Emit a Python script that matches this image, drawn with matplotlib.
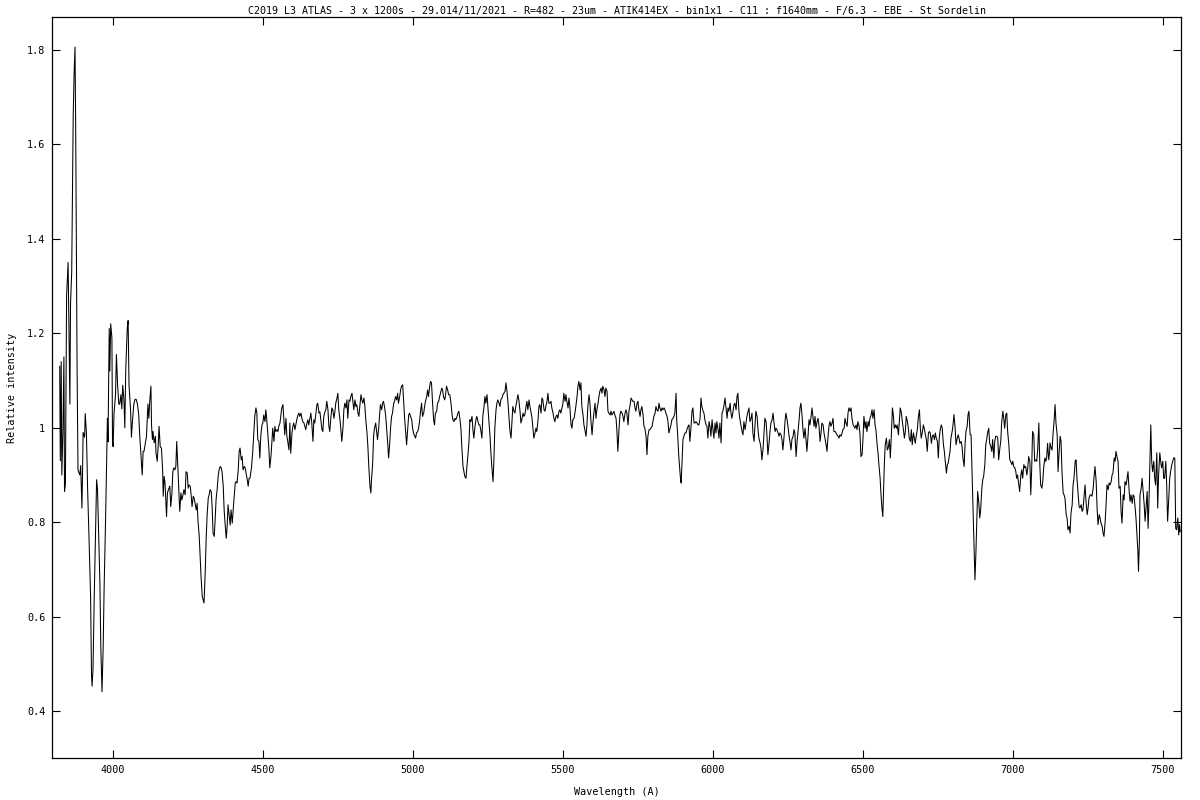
import matplotlib
matplotlib.use("Agg")
import matplotlib.pyplot as plt
from matplotlib.ticker import FormatStrFormatter, MultipleLocator

# Spectrum (wavelength in A, relative intensity)
wavelength = [
    3824, 3826, 3829, 3831, 3835, 3838, 3840, 3843, 3847, 3852, 3855, 3858, 3860, 3864, 3867, 3869,
    3872, 3875, 3877, 3880, 3882, 3885, 3891, 3894, 3898, 3900, 3902, 3907, 3909, 3913, 3917, 3922,
    3927, 3930, 3932, 3935, 3939, 3943, 3947, 3950, 3952, 3958, 3961, 3965, 3969, 3972, 3977, 3980,
    3983, 3985, 3989, 3991, 3994, 3998, 4000, 4002, 4005, 4010, 4013, 4017, 4021, 4024, 4028, 4031,
    4034, 4038, 4041, 4044, 4049, 4052, 4055, 4060, 4063, 4066, 4071, 4075, 4079, 4083, 4087, 4091,
    4095, 4099, 4102, 4105, 4110, 4113, 4118, 4121,
    4124, 4128, 4130, 4133, 4135, 4139, 4143, 4145, 4149, 4152, 4155, 4159, 4163, 4167, 4169, 4172,
    4175, 4180, 4183, 4188, 4191, 4194, 4198, 4201, 4204, 4208, 4211, 4214, 4218, 4221, 4224, 4228,
    4231, 4234, 4238, 4242, 4245, 4249, 4252, 4255, 4259, 4262, 4265, 4269, 4272, 4275, 4279, 4282,
    4285, 4289, 4292, 4295, 4299, 4302, 4305, 4309, 4312, 4315, 4319, 4322, 4325, 4329, 4332, 4335,
    4339, 4342, 4345, 4349, 4352, 4355, 4359, 4362, 4365, 4369, 4372, 4375, 4379, 4382, 4385, 4389,
    4392, 4395, 4399, 4402, 4405, 4409, 4412, 4415, 4419, 4422, 4425, 4429, 4432, 4435, 4439, 4442,
    4445, 4449, 4452, 4455,
    4458, 4463, 4467, 4471, 4474, 4478, 4481, 4484, 4488, 4491, 4494, 4498, 4501, 4504, 4508, 4511,
    4514, 4518, 4521, 4524, 4528, 4531, 4534, 4538, 4541, 4544, 4548, 4551, 4554, 4558, 4561, 4564,
    4568, 4571, 4574, 4578, 4581, 4584, 4588, 4591, 4594, 4598, 4601, 4604, 4608, 4611, 4614, 4618,
    4621, 4624, 4628, 4631, 4634, 4638, 4641, 4644, 4648, 4651, 4654, 4658, 4661, 4664, 4668, 4671,
    4674, 4678, 4681, 4684, 4688, 4691, 4694, 4698, 4701, 4704, 4708, 4711, 4714, 4718, 4721, 4724,
    4728, 4731, 4734, 4738, 4741, 4744, 4748, 4751, 4754, 4758, 4761, 4764, 4768, 4771, 4774, 4778,
    4781, 4784, 4788,
    4791, 4794, 4798, 4801, 4804, 4808, 4811, 4814, 4818, 4821, 4824, 4828, 4831, 4834, 4838, 4841,
    4844, 4848, 4851, 4854, 4858, 4861, 4863, 4867, 4870, 4873, 4877, 4880, 4883, 4887, 4890, 4893,
    4897, 4900, 4903, 4907, 4910, 4913, 4917, 4920, 4923, 4927, 4930, 4933, 4937, 4940, 4943, 4947,
    4950, 4953, 4957, 4960, 4963, 4967, 4970, 4973, 4977, 4980, 4983, 4987, 4990, 4993, 4997, 5000,
    5003, 5007, 5010, 5013, 5017, 5020, 5023, 5027, 5030, 5033, 5037, 5040, 5043, 5047, 5050, 5053,
    5057, 5060, 5063, 5066, 5070, 5073, 5076, 5080, 5083, 5087, 5090, 5093, 5097, 5100, 5103, 5107,
    5110, 5113, 5117, 5120,
    5124, 5128, 5131, 5134, 5138, 5141, 5144, 5148, 5151, 5154, 5158, 5161, 5164, 5168, 5171, 5174,
    5178, 5181, 5184, 5188, 5191, 5194, 5198, 5201, 5204, 5208, 5211, 5214, 5218, 5221, 5224, 5228,
    5231, 5234, 5238, 5241, 5244, 5248, 5251, 5254, 5258, 5261, 5264, 5268, 5271, 5274, 5278, 5281,
    5284, 5288, 5291, 5294, 5298, 5301, 5304, 5308, 5311, 5314, 5318, 5321, 5324, 5328, 5331, 5334,
    5338, 5341, 5344, 5348, 5351, 5354, 5358, 5361, 5364, 5368, 5371, 5374, 5378, 5381, 5384, 5388,
    5391, 5394, 5398, 5401, 5404, 5408, 5411, 5414, 5418, 5421, 5424, 5428, 5431, 5434, 5438, 5441,
    5444, 5448, 5451, 5454,
    5458, 5461, 5464, 5468, 5471, 5474, 5478, 5481, 5484, 5488, 5491, 5494, 5498, 5501, 5504, 5508,
    5511, 5514, 5518, 5521, 5524, 5528, 5531, 5534, 5538, 5541, 5544, 5548, 5551, 5554, 5558, 5561,
    5564, 5568, 5571, 5574, 5578, 5581, 5584, 5588, 5591, 5594, 5598, 5601, 5604, 5608, 5611, 5614,
    5618, 5621, 5624, 5628, 5631, 5634, 5638, 5641, 5644, 5648, 5651, 5654, 5658, 5661, 5664, 5668,
    5671, 5674, 5678, 5681, 5684, 5688, 5691, 5694, 5698, 5701, 5704, 5708, 5711, 5714, 5718, 5721,
    5724, 5728, 5731, 5734, 5738, 5741, 5744, 5748, 5751, 5754, 5758, 5761, 5764, 5768, 5771, 5774,
    5778, 5781, 5784, 5788,
    5791, 5794, 5798, 5801, 5804, 5808, 5811, 5814, 5818, 5821, 5824, 5828, 5831, 5834, 5838, 5841,
    5844, 5848, 5851, 5854, 5858, 5861, 5864, 5868, 5871, 5874, 5878, 5880, 5883, 5887, 5890, 5893,
    5895, 5898, 5901, 5904, 5908, 5911, 5914, 5918, 5921, 5924, 5928, 5931, 5934, 5938, 5941, 5944,
    5948, 5951, 5954, 5958, 5961, 5964, 5968, 5971, 5974, 5978, 5981, 5984, 5988, 5991, 5994, 5998,
    6001, 6004, 6008, 6011, 6014, 6018, 6021, 6024, 6028, 6031, 6034, 6038, 6041, 6044, 6048, 6051,
    6054, 6058, 6061, 6064, 6068, 6071, 6074, 6078, 6081, 6084, 6088, 6091, 6094, 6098, 6101, 6104,
    6108, 6111, 6114, 6118, 6121,
    6124, 6128, 6131, 6134, 6138, 6141, 6144, 6148, 6151, 6154, 6158, 6161, 6164, 6168, 6171, 6174,
    6178, 6181, 6184, 6188, 6191, 6194, 6198, 6201, 6204, 6208, 6211, 6214, 6218, 6221, 6224, 6228,
    6231, 6234, 6238, 6241, 6244, 6248, 6251, 6254, 6258, 6261, 6264, 6268, 6271, 6274, 6278, 6281,
    6284, 6288, 6291, 6294, 6298, 6301, 6304, 6308, 6311, 6314, 6318, 6321, 6324, 6328, 6331, 6334,
    6338, 6341, 6344, 6348, 6351, 6354, 6358, 6361, 6364, 6368, 6371, 6374, 6378, 6381, 6384, 6388,
    6391, 6394, 6398, 6401, 6404, 6408, 6411, 6414, 6418, 6421, 6424, 6428, 6431, 6434, 6438, 6441,
    6444, 6448, 6451, 6454,
    6458, 6461, 6464, 6468, 6471, 6474, 6478, 6481, 6484, 6488, 6491, 6494, 6498, 6501, 6504, 6508,
    6511, 6514, 6518, 6521, 6524, 6528, 6531, 6534, 6538, 6541, 6544, 6548, 6551, 6554, 6558, 6561,
    6564, 6567, 6569, 6572, 6575, 6579, 6582, 6585, 6589, 6592, 6595, 6599, 6602, 6605, 6609, 6612,
    6615, 6619, 6622, 6625, 6629, 6632, 6635, 6639, 6642, 6645, 6649, 6652, 6655, 6659, 6662, 6665,
    6669, 6672, 6675, 6679, 6682, 6685, 6689, 6692, 6695, 6699, 6702, 6705, 6709, 6712, 6715, 6719,
    6722, 6725, 6729, 6732, 6735, 6739, 6742, 6745, 6749, 6752, 6755, 6759, 6762, 6765, 6769, 6772,
    6775, 6779, 6782, 6785, 6789,
    6791, 6794, 6798, 6801, 6804, 6808, 6811, 6814, 6818, 6821, 6824, 6828, 6831, 6834, 6838, 6841,
    6844, 6848, 6851, 6854, 6858, 6861, 6864, 6868, 6871, 6874, 6877, 6880, 6883, 6887, 6890, 6893,
    6897, 6900, 6903, 6907, 6910, 6913, 6917, 6920, 6923, 6927, 6930, 6933, 6937, 6940, 6943, 6947,
    6950, 6953, 6957, 6960, 6963, 6967, 6970, 6973, 6977, 6980, 6983, 6987, 6990, 6993, 6997, 7000,
    7003, 7007, 7010, 7013, 7016, 7020, 7023, 7027, 7030, 7033, 7037, 7040, 7043, 7047, 7050, 7053,
    7057, 7060, 7063, 7066, 7070, 7073, 7077, 7080, 7083, 7087, 7090, 7093, 7097, 7100, 7103, 7107,
    7110, 7113, 7116, 7120, 7123,
    7124, 7128, 7131, 7134, 7138, 7141, 7144, 7148, 7151, 7154, 7158, 7161, 7164, 7168, 7171, 7174,
    7178, 7181, 7184, 7188, 7191, 7194, 7198, 7201, 7204, 7208, 7211, 7214, 7218, 7221, 7224, 7228,
    7231, 7234, 7238, 7241, 7244, 7248, 7251, 7254, 7258, 7261, 7264, 7268, 7271, 7274, 7278, 7281,
    7284, 7288, 7291, 7294, 7298, 7301, 7304, 7308, 7311, 7314, 7318, 7321, 7324, 7328, 7331, 7334,
    7338, 7341, 7344, 7348, 7351, 7354, 7358, 7361, 7364, 7368, 7371, 7374, 7378, 7381, 7384, 7388,
    7391, 7394, 7398, 7401, 7404, 7408, 7411, 7414, 7417, 7419, 7422, 7424, 7428, 7431, 7434, 7438,
    7441, 7444, 7448, 7451, 7454, 7458, 7460, 7463, 7466, 7470, 7473, 7476, 7480, 7483, 7486, 7490,
    7493, 7496, 7500, 7503, 7506, 7510, 7513, 7516, 7520, 7523, 7526, 7530, 7533, 7536, 7540, 7543,
    7546, 7550, 7553, 7556, 7558,
]

intensity = [
    1.130, 0.930, 1.140, 0.900, 1.000, 1.150, 0.865, 0.880, 1.280, 1.350, 1.200, 1.050, 1.260, 1.330, 1.530, 1.660,
    1.750, 1.806, 1.660, 1.330, 1.120, 0.910, 0.900, 0.920, 0.830, 0.900, 0.990, 0.980, 1.030, 0.990, 0.870, 0.760,
    0.640, 0.476, 0.453, 0.490, 0.640, 0.760, 0.890, 0.870, 0.820, 0.670, 0.535, 0.441, 0.540, 0.660, 0.810, 0.920,
    1.020, 0.970, 1.210, 1.120, 1.220, 1.190, 0.970, 0.960, 1.030, 1.070, 1.155, 1.090, 1.050, 1.050, 1.070, 1.040,
    1.090, 1.060, 1.000, 1.120, 1.210, 1.227, 1.090, 1.040, 0.980, 1.010, 1.050, 1.060, 1.060, 1.050, 1.030, 0.980,
    0.940, 0.900, 0.950, 0.950, 0.970, 0.980, 1.050, 1.020,
    1.056, 1.088, 1.006, 0.975, 0.992, 0.968, 0.982, 0.946, 0.929, 0.960, 1.003, 0.960, 0.957, 0.911, 0.855, 0.897,
    0.883, 0.812, 0.862, 0.872, 0.876, 0.833, 0.862, 0.907, 0.915, 0.911, 0.918, 0.971, 0.911, 0.869, 0.823, 0.862,
    0.847, 0.855, 0.869, 0.858, 0.907, 0.904, 0.872, 0.879, 0.876, 0.858, 0.833, 0.855, 0.851, 0.840, 0.826, 0.840,
    0.802, 0.770, 0.727, 0.685, 0.643, 0.636, 0.629, 0.696, 0.763, 0.812, 0.851, 0.858, 0.869, 0.865, 0.833, 0.777,
    0.770, 0.805, 0.847, 0.872, 0.897, 0.911, 0.918, 0.915, 0.907, 0.876, 0.826, 0.798, 0.766, 0.791, 0.837, 0.812,
    0.794, 0.826, 0.798, 0.826, 0.851, 0.883, 0.886, 0.883, 0.911, 0.950, 0.957, 0.932, 0.939, 0.911, 0.918, 0.915,
    0.904, 0.890, 0.876, 0.893,
    0.893, 0.915, 0.946, 0.989, 1.024, 1.042, 1.031, 0.975, 0.971, 0.936, 0.982, 1.006, 1.010, 1.027, 1.013, 1.038,
    1.017, 0.982, 0.957, 0.915, 0.939, 0.968, 0.999, 0.971, 1.003, 0.992, 0.996, 0.992, 1.003, 1.010, 1.027, 1.042,
    1.049, 1.017, 0.985, 1.020, 0.982, 0.971, 0.953, 1.010, 0.946, 0.989, 1.003, 1.010, 0.996, 1.006, 1.017, 1.027,
    1.031, 1.024, 1.031, 1.020, 1.013, 1.010, 1.003, 0.996, 1.010, 1.017, 1.006, 1.020, 1.031, 1.010, 0.971, 1.017,
    1.010, 1.031, 1.049, 1.052, 1.031, 1.034, 1.017, 0.996, 0.992, 1.024, 1.034, 1.038, 1.056, 1.038, 1.003, 0.992,
    1.024, 1.042, 1.038, 1.020, 1.034, 1.052, 1.063, 1.073, 1.038, 1.017, 0.996, 0.971, 1.000, 1.038, 1.052, 1.042,
    1.059, 1.020, 1.059,
    1.056, 1.066, 1.073, 1.056, 1.038, 1.059, 1.045, 1.049, 1.031, 1.024, 1.045, 1.070, 1.059, 1.052, 1.063, 1.045,
    1.017, 0.989, 0.960, 0.918, 0.876, 0.862, 0.890, 0.925, 0.982, 0.999, 1.010, 0.992, 0.975, 0.999, 1.027, 1.049,
    1.038, 1.052, 1.056, 1.042, 1.027, 1.003, 0.968, 0.936, 0.960, 1.003, 1.024, 1.031, 1.052, 1.056, 1.066, 1.059,
    1.073, 1.052, 1.066, 1.080, 1.088, 1.091, 1.056, 1.024, 0.989, 0.964, 0.992, 1.027, 1.031, 1.024, 1.017, 0.999,
    0.989, 0.982, 0.978, 0.989, 0.992, 0.999, 1.013, 1.038, 1.052, 1.024, 1.031, 1.045, 1.056, 1.066, 1.080, 1.066,
    1.088, 1.098, 1.095, 1.059, 1.017, 1.006, 1.031, 1.034, 1.052, 1.056, 1.066, 1.073, 1.084, 1.080, 1.066, 1.059,
    1.070, 1.088, 1.080, 1.070,
    1.070, 1.052, 1.031, 1.017, 1.013, 1.020, 1.017, 1.024, 1.031, 1.035, 1.017, 0.999, 0.960, 0.918, 0.907, 0.897,
    0.893, 0.918, 0.939, 0.971, 1.017, 1.013, 1.024, 0.996, 0.978, 1.003, 1.017, 1.024, 1.013, 1.006, 1.006, 0.992,
    0.978, 1.024, 1.045, 1.066, 1.052, 1.070, 1.045, 1.017, 0.982, 0.946, 0.918, 0.886, 0.932, 0.999, 1.038, 1.052,
    1.059, 1.052, 1.045, 1.059, 1.063, 1.070, 1.073, 1.077, 1.095, 1.080, 1.052, 1.024, 0.996, 0.978, 1.010, 1.045,
    1.035, 1.031, 1.045, 1.059, 1.070, 1.059, 1.035, 1.010, 1.017, 1.031, 1.024, 1.027, 1.045, 1.056, 1.038, 1.059,
    1.045, 1.035, 1.020, 0.999, 0.978, 0.989, 0.999, 0.992, 1.017, 1.045, 1.049, 1.031, 1.063, 1.059, 1.038, 1.035,
    1.045, 1.056, 1.073, 1.052,
    1.052, 1.056, 1.042, 1.031, 1.020, 1.013, 1.024, 1.027, 1.020, 1.035, 1.038, 1.031, 1.042, 1.052, 1.073, 1.056,
    1.070, 1.056, 1.042, 1.063, 1.045, 1.006, 0.999, 1.017, 1.020, 1.031, 1.045, 1.066, 1.088, 1.098, 1.080, 1.095,
    1.045, 1.027, 1.006, 0.996, 0.982, 1.006, 1.045, 1.070, 1.052, 1.017, 0.985, 1.010, 1.031, 1.052, 1.020, 1.038,
    1.052, 1.066, 1.077, 1.084, 1.073, 1.088, 1.080, 1.066, 1.084, 1.077, 1.035, 1.031, 1.027, 1.035, 1.027, 1.031,
    1.035, 1.027, 1.020, 0.992, 0.950, 0.999, 1.027, 1.035, 1.031, 1.024, 1.013, 1.031, 1.038, 1.031, 1.006, 1.035,
    1.045, 1.063, 1.059, 1.056, 1.056, 1.042, 1.035, 1.052, 1.056, 1.038, 1.024, 1.038, 1.045, 1.027, 1.003, 0.999,
    0.982, 0.943, 0.982, 0.996,
    0.996, 0.999, 1.003, 1.013, 1.024, 1.031, 1.045, 1.038, 1.035, 1.052, 1.042, 1.035, 1.042, 1.038, 1.042, 1.038,
    1.031, 1.024, 1.013, 0.989, 0.999, 1.006, 1.017, 1.020, 1.024, 1.031, 1.073, 1.017, 0.989, 0.940, 0.915, 0.890,
    0.883, 0.932, 0.975, 0.982, 0.989, 0.989, 0.996, 1.003, 1.006, 0.971, 1.003, 1.035, 1.042, 1.010, 1.010, 1.013,
    1.010, 1.006, 1.006, 1.020, 1.063, 1.045, 1.035, 1.031, 1.017, 1.006, 1.003, 0.978, 1.013, 1.003, 0.982, 1.017,
    0.996, 0.978, 1.010, 0.989, 1.013, 0.996, 0.978, 1.010, 0.968, 1.031, 1.035, 1.049, 1.063, 1.045, 1.020, 1.042,
    1.035, 1.052, 1.031, 1.020, 1.035, 1.049, 1.052, 1.038, 1.066, 1.073, 1.031, 1.017, 1.006, 0.992, 0.985, 1.013,
    0.996, 1.010, 1.024, 1.035, 1.042,
    1.013, 1.020, 1.031, 0.989, 0.971, 1.006, 1.035, 1.024, 0.996, 0.978, 0.968, 0.957, 0.932, 0.957, 0.989, 1.020,
    1.013, 0.982, 0.943, 0.968, 0.992, 1.010, 1.017, 1.031, 1.013, 0.992, 0.999, 0.996, 0.989, 0.982, 0.989, 0.985,
    0.975, 0.953, 0.982, 1.013, 1.031, 1.017, 1.003, 0.985, 0.968, 0.953, 0.975, 0.982, 0.996, 0.989, 0.939, 0.968,
    0.989, 1.017, 1.042, 1.052, 1.024, 0.996, 0.978, 0.999, 0.975, 0.950, 0.985, 1.017, 1.006, 1.024, 1.042, 1.024,
    1.003, 1.024, 0.999, 1.013, 1.020, 1.006, 0.971, 0.989, 1.010, 1.006, 0.989, 0.978, 0.964, 0.950, 0.978, 1.006,
    1.013, 1.003, 1.010, 1.020, 0.992, 0.992, 0.989, 0.985, 0.982, 0.978, 0.985, 0.982, 0.989, 0.996, 0.999, 1.020,
    1.010, 1.003, 1.031, 1.042,
    1.035, 1.042, 1.020, 1.006, 1.003, 0.999, 1.006, 0.996, 1.013, 1.003, 0.985, 0.939, 0.943, 0.978, 1.024, 0.999,
    1.013, 0.992, 1.013, 1.003, 1.020, 1.027, 1.038, 1.020, 1.038, 1.006, 0.996, 0.964, 0.947, 0.922, 0.893, 0.858,
    0.830, 0.812, 0.858, 0.922, 0.964, 0.978, 0.953, 0.957, 0.975, 0.936, 0.978, 1.042, 1.027, 0.999, 1.006, 0.999,
    1.006, 0.985, 1.013, 1.042, 1.031, 1.013, 0.999, 0.978, 0.992, 1.024, 1.013, 0.999, 0.978, 0.971, 0.996, 0.964,
    0.989, 0.978, 0.967, 0.985, 0.996, 1.020, 1.038, 0.999, 0.978, 0.992, 1.006, 0.999, 0.985, 0.975, 0.950, 0.989,
    0.992, 0.989, 0.967, 0.982, 0.985, 0.975, 0.989, 0.978, 0.971, 0.936, 0.978, 0.999, 1.006, 0.999, 0.964, 0.950,
    0.929, 0.904, 0.922, 0.925, 0.943,
    0.950, 0.978, 0.992, 1.006, 1.028, 0.999, 0.964, 0.975, 0.985, 0.978, 0.967, 0.971, 0.960, 0.936, 0.918, 0.964,
    0.992, 1.003, 1.028, 1.035, 0.985, 0.985, 0.915, 0.823, 0.745, 0.678, 0.731, 0.802, 0.865, 0.840, 0.809, 0.826,
    0.872, 0.890, 0.897, 0.922, 0.964, 0.975, 0.992, 0.999, 0.967, 0.960, 0.950, 0.975, 0.936, 0.971, 0.982, 0.982,
    0.978, 0.932, 0.957, 0.971, 1.010, 1.035, 1.020, 0.999, 1.028, 1.031, 0.992, 0.964, 0.932, 0.929, 0.922, 0.929,
    0.918, 0.915, 0.908, 0.893, 0.900, 0.879, 0.865, 0.900, 0.911, 0.893, 0.922, 0.915, 0.918, 0.900, 0.915, 0.939,
    0.929, 0.858, 0.911, 0.992, 0.985, 0.929, 0.932, 0.929, 0.953, 1.010, 0.925, 0.879, 0.872, 0.886, 0.915, 0.936,
    0.929, 0.936, 0.967, 0.932, 0.950,
    0.968, 0.957, 0.953, 0.985, 1.017, 1.049, 1.010, 0.985, 0.907, 0.943, 0.982, 0.971, 0.907, 0.862, 0.858, 0.851,
    0.816, 0.809, 0.784, 0.791, 0.777, 0.819, 0.837, 0.879, 0.893, 0.929, 0.932, 0.893, 0.858, 0.833, 0.830, 0.837,
    0.823, 0.826, 0.858, 0.879, 0.844, 0.816, 0.830, 0.851, 0.858, 0.858, 0.855, 0.872, 0.897, 0.918, 0.886, 0.830,
    0.795, 0.816, 0.809, 0.798, 0.791, 0.777, 0.770, 0.802, 0.837, 0.879, 0.869, 0.883, 0.879, 0.886, 0.900, 0.904,
    0.936, 0.929, 0.950, 0.936, 0.929, 0.872, 0.876, 0.823, 0.798, 0.858, 0.847, 0.886, 0.879, 0.893, 0.907, 0.865,
    0.844, 0.858, 0.840, 0.858, 0.855, 0.830, 0.805, 0.773, 0.738, 0.696, 0.759, 0.858, 0.872, 0.893, 0.869, 0.837,
    0.802, 0.830, 0.865, 0.787, 0.844, 0.950, 1.006, 0.929, 0.907, 0.929, 0.893, 0.879, 0.947, 0.830, 0.900, 0.947,
    0.929, 0.915, 0.929, 0.893, 0.893, 0.929, 0.879, 0.802, 0.851, 0.893, 0.907, 0.922, 0.929, 0.936, 0.936, 0.787,
    0.784, 0.809, 0.773, 0.795, 0.780,
]

title = ("C2019 L3 ATLAS - 3 x 1200s - 29.014/11/2021 - R=482 - 23um - ATIK414EX - "
         "bin1x1 - C11 : f1640mm - F/6.3 - EBE - St Sordelin")

# Font monospace, small, like a gnuplot png
plt.rcParams["font.family"] = ["DejaVu Sans Mono"]
plt.rcParams["font.size"] = 7.3

fig = plt.figure(figsize=(12, 8), dpi=100)
ax = fig.add_axes([0.0435, 0.052, 0.9405, 0.927])

ax.plot(wavelength, intensity, color="black", linewidth=0.75)

ax.set_xlim(3799, 7560)
ax.set_ylim(0.3, 1.87)
ax.xaxis.set_major_locator(MultipleLocator(500))
ax.yaxis.set_major_locator(MultipleLocator(0.2))
ax.yaxis.set_major_formatter(FormatStrFormatter("%g"))

# Ticks inside, on the four sides
ax.tick_params(direction="in", length=6, width=0.8, top=True, right=True, pad=5)
for s in ax.spines.values():
    s.set_linewidth(0.9)

ax.set_title(title, fontsize=7.2, pad=2)
ax.set_xlabel("Wavelength (A)", labelpad=8.5)
ax.set_ylabel("Relative intensity", labelpad=7)

plt.savefig("out.png", dpi=100)
